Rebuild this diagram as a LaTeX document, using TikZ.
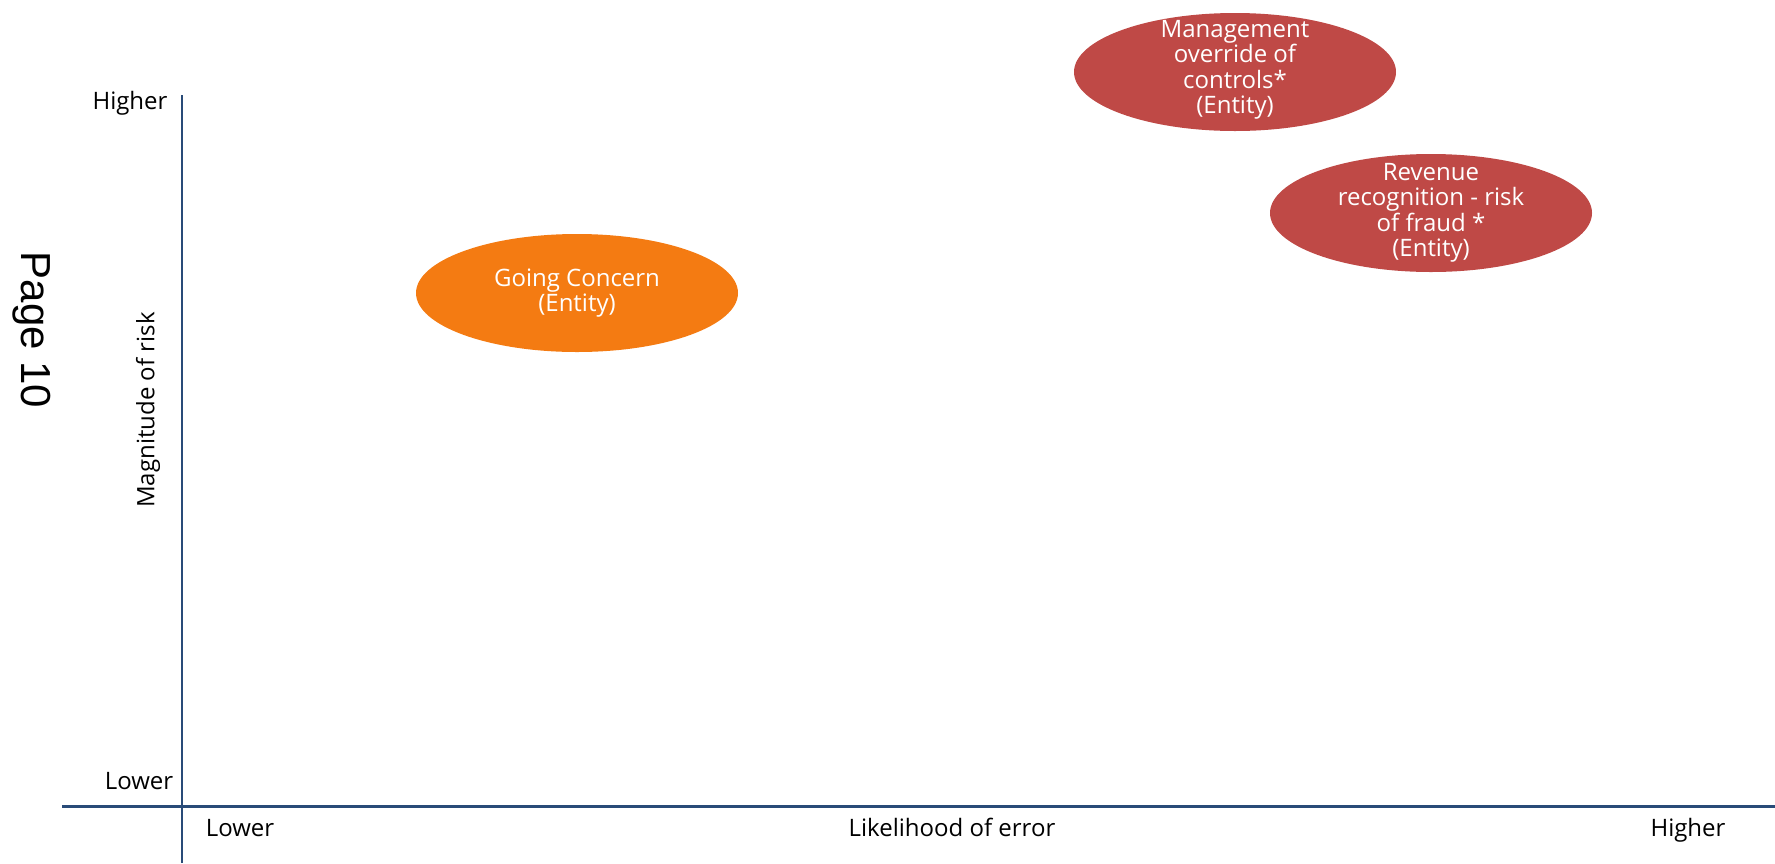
\documentclass[tikz,border=0pt]{standalone}
\usepackage{fontspec}
\setmainfont{Open Sans}
\newfontfamily\pagefont{Liberation Sans}
\usetikzlibrary{shapes,positioning}
\definecolor{axisblue}{RGB}{41,75,120}
\definecolor{riskred}{RGB}{191,73,70}
\definecolor{riskorange}{RGB}{244,123,18}

\begin{document}
\begin{tikzpicture}[x=1pt, y=-1pt,
    risk/.style={ellipse, draw=none, minimum width=322pt, minimum height=118pt, inner sep=0pt},
    risktext/.style={text=white, align=center, inner sep=0pt, font=\fontsize{24}{25.5}\selectfont},
    axislabel/.style={font=\fontsize{24}{28}\selectfont, inner sep=0pt},
    axis/.style={draw=axisblue, line width=2pt}
]
    \useasboundingbox (0,0) rectangle (1775,863);

    % Axes
    \coordinate (ytop) at (182,95);
    \coordinate (ybot) at (182,863);
    \coordinate (xleft) at (62,806);
    \coordinate (xright) at (1775,806);
    \draw[axis] (ybot) -- (ytop);
    \draw[axis, line width=3pt] (xleft) -- (xright);

    % Axis labels
    \node[axislabel, anchor=base] (yhigh) at (130,109) {Higher};
    \node[axislabel, anchor=base] (ylow) at (139,789) {Lower};
    \node[axislabel, rotate=90] (ytitle) at (148,410) {Magnitude of risk};
    \node[axislabel, anchor=base] (xlow) at (240,836) {Lower};
    \node[axislabel, anchor=base] (xtitle) at (952,836) {Likelihood of error};
    \node[axislabel, anchor=base] (xhigh) at (1688,836) {Higher};

    % Page number
    \node[font=\pagefont\fontsize{42}{48}\selectfont, rotate=-90, inner sep=0pt] (page) at (32,330) {Page 10};

    % Risks
    \node[risk, fill=riskorange] (going) at (577,293) {};
    \node[risktext] (goingtext) at (going) {Going Concern\\(Entity)};

    \node[risk, fill=riskred] (mgmt) at (1235,72) {};
    \node[risktext] (mgmttext) at (1235,70) {Management\\override of\\controls*\\(Entity)};

    \node[risk, fill=riskred] (revenue) at (1431,213) {};
    \node[risktext] (revenuetext) at (revenue) {Revenue\\recognition - risk\\of fraud *\\(Entity)};

\end{tikzpicture}
\end{document}
